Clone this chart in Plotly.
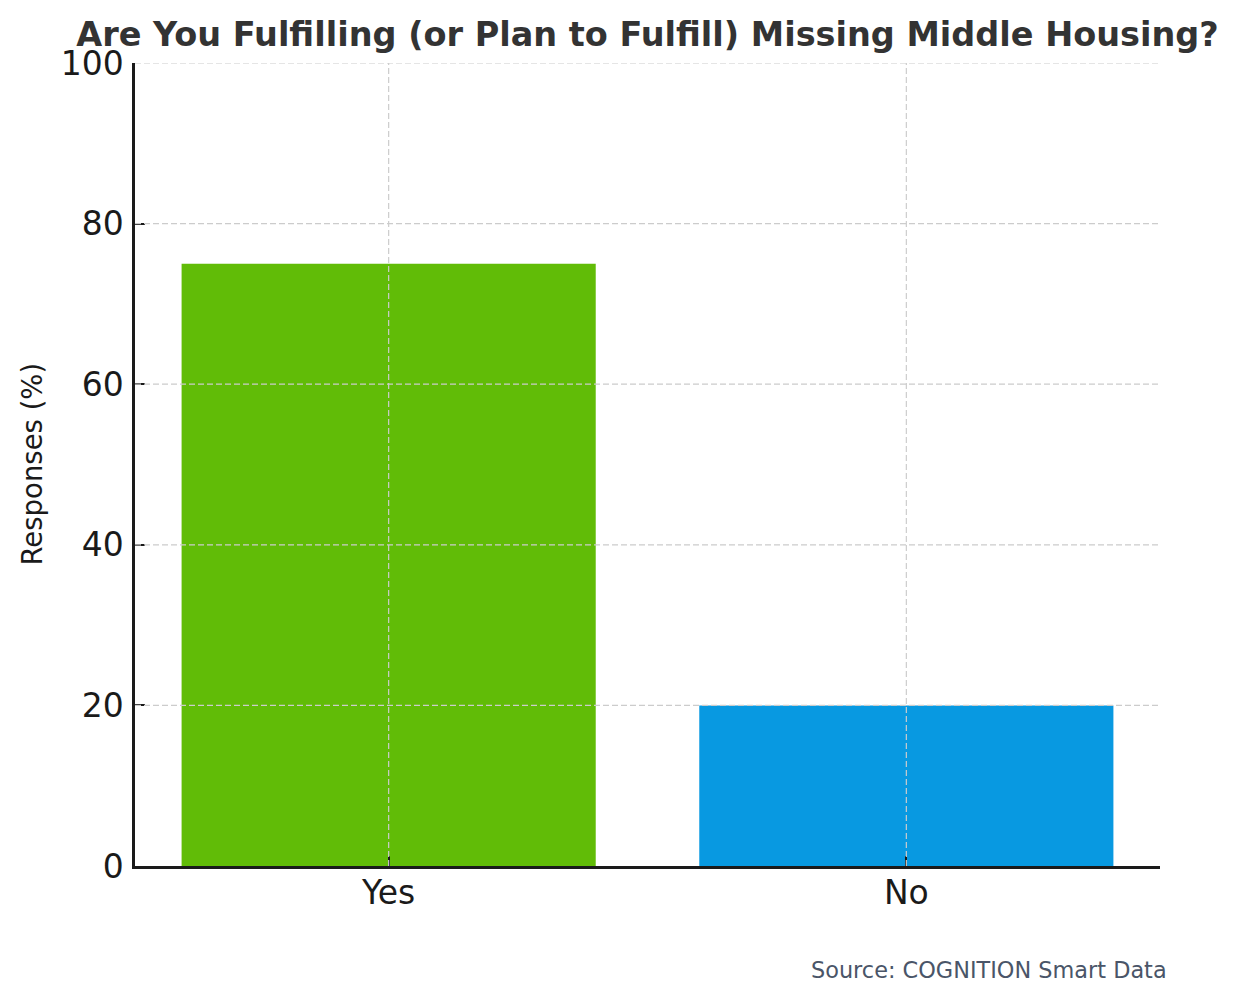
import plotly.graph_objects as go

categories = ["Yes", "No"]
values = [75, 20]
bar_colors = ["#61BC07", "#0899E1"]
y_ticks = [0, 20, 40, 60, 80, 100]
title_text = "Are You Fulfilling (or Plan to Fulfill) Missing Middle Housing?"
y_label = "Responses (%)"
source_text = "Source: COGNITION Smart Data"

FONT = "DejaVu Sans"
W, H = 1236, 1000
OFF = 8  # page body margin
# plot area in page pixels: x 135..1160, y 63..865.5
L = 135 - OFF
R = W - (1160 - OFF)
T = 63 - OFF
B = int(H - (865.5 - OFF))
PW = W - L - R
PH = H - T - B

fig = go.Figure()
fig.add_trace(go.Bar(x=categories, y=values, marker=dict(color=bar_colors, line=dict(width=0)),
                     width=0.8, hoverinfo="x+y"))

grid_style = dict(color="#cccccc", width=1.2, dash="6px,3px")
shapes = []
for v in y_ticks[1:]:
    shapes.append(dict(type="line", xref="paper", yref="y", x0=0, x1=1, y0=v, y1=v,
                       line=grid_style, layer="above"))
for c in categories:
    shapes.append(dict(type="line", xref="x", yref="paper", x0=c, x1=c, y0=0, y1=1,
                       line=grid_style, layer="above"))

fig.update_layout(
    width=W, height=H,
    margin=dict(l=L, r=R, t=T, b=B),
    paper_bgcolor="white", plot_bgcolor="white",
    showlegend=False,
    shapes=shapes,
    font=dict(family=FONT, color="#1a1a1a"),
    title=dict(text="<b>" + title_text + "</b>", x=(L + PW / 2) / W, xanchor="center",
               y=1 - (34 - OFF) / H, yanchor="middle", yref="container",
               font=dict(family=FONT, size=33.5, color="#333333")),
    annotations=[
        dict(text=y_label, xref="paper", yref="paper", x=(31 - OFF - L) / PW, y=0.5,
             xanchor="center", yanchor="middle", textangle=-90, showarrow=False,
             font=dict(family=FONT, size=27.5, color="#1a1a1a")),
        dict(text=source_text, xref="paper", yref="paper", x=(1169 - OFF - L) / PW,
             y=(865.5 - 969) / PH, xanchor="right", yanchor="middle", showarrow=False,
             font=dict(family=FONT, size=22.4, color="#4a5568")),
    ],
)
fig.update_xaxes(
    type="category", range=[-0.49, 1.49], showgrid=False, zeroline=False,
    showline=True, linecolor="#1a1a1a", linewidth=2.5, layer="above traces",
    ticks="inside", ticklen=10, tickwidth=2, tickcolor="#1a1a1a",
    ticklabelstandoff=-4,
    tickfont=dict(family=FONT, size=33, color="#1a1a1a"),
)
fig.update_yaxes(
    range=[0, 100], tickvals=y_ticks, showgrid=False, zeroline=False,
    showline=True, linecolor="#1a1a1a", linewidth=2.5, layer="above traces",
    ticks="inside", ticklen=10, tickwidth=2, tickcolor="#1a1a1a",
    ticklabelstandoff=2,
    tickfont=dict(family=FONT, size=33, color="#1a1a1a"),
)

fig.write_html("out.html")
